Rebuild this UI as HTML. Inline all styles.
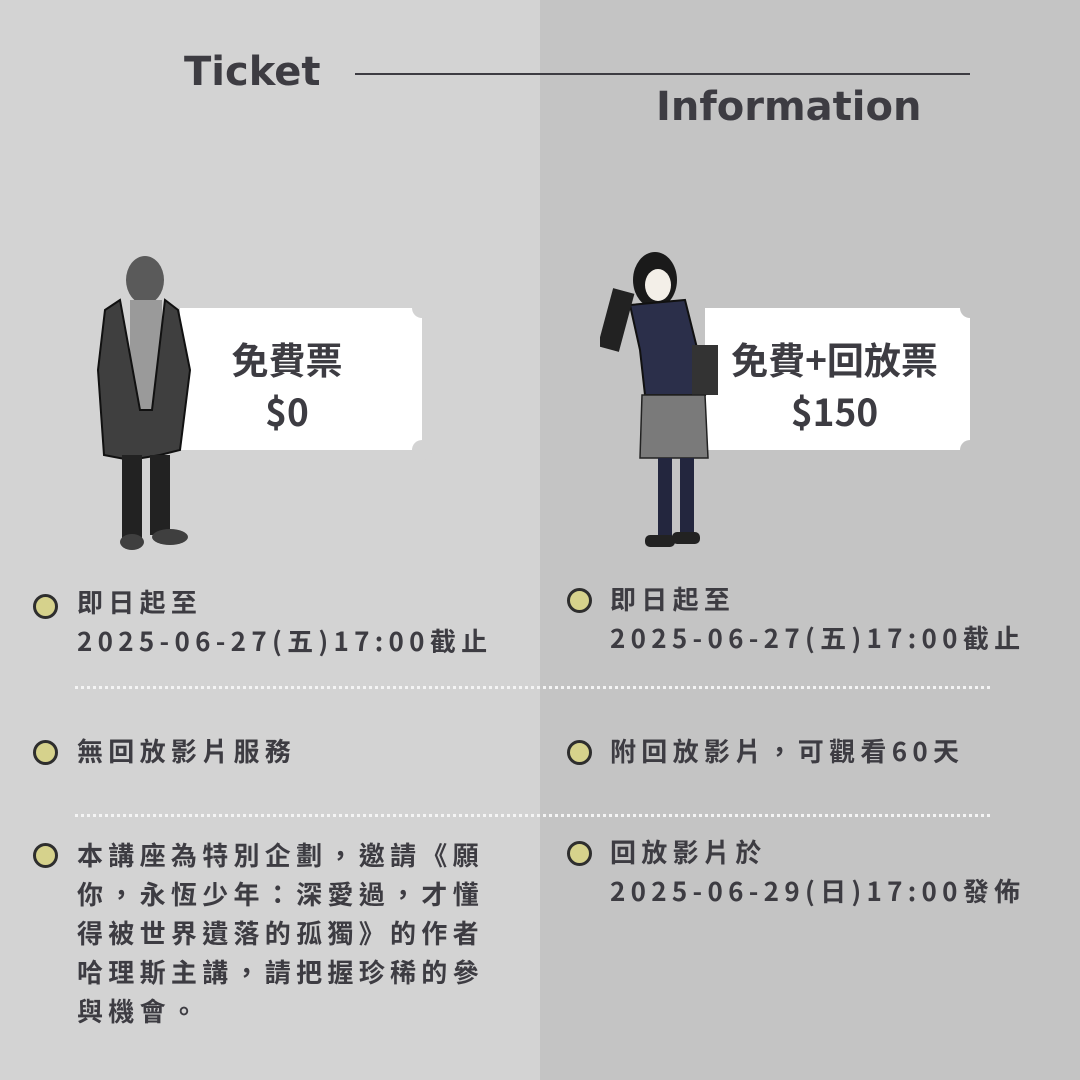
<!DOCTYPE html>
<html><head><meta charset="utf-8"><style>
body{margin:0;width:1080px;height:1080px;position:relative;overflow:hidden;background:#d3d3d3;font-family:"Liberation Sans","Noto Sans CJK TC",sans-serif;color:#3d3c42}
.r{position:absolute;left:540px;top:0;width:540px;height:1080px;background:#c4c4c4}
.t{position:absolute;font-weight:bold;font-family:"DejaVu Sans","Liberation Sans",sans-serif}
.tk{position:absolute;background:#fff;top:308px;height:142px;text-align:center;font-weight:bold;font-size:37px;line-height:52px;padding-top:24px;box-sizing:border-box;font-family:"Noto Sans CJK TC",sans-serif}
.n{position:absolute;width:20px;height:20px;border-radius:50%}
.b{position:absolute;width:19px;height:19px;border-radius:50%;background:#d6d28c;border:3px solid #2e2e2e}
.x{position:absolute;font-size:26px;font-weight:bold;letter-spacing:5.3px;line-height:39px;font-family:"Noto Sans CJK TC",sans-serif;white-space:nowrap}
.d{position:absolute;left:75px;width:915px;border-top:3px dotted #f4f4f4}
</style></head><body>
<div class="r"></div>
<div class="t" style="left:184px;top:49px;font-size:40px">Ticket</div>
<div style="position:absolute;left:355px;top:73px;width:615px;height:2px;background:#3d3c42"></div>
<div class="t" style="left:656px;top:84px;font-size:40px">Information</div>

<div class="tk" style="left:180px;width:242px;padding-right:28px">免費票<br>$0</div>
<div class="n" style="left:412px;top:298px;background:#d3d3d3"></div>
<div class="n" style="left:412px;top:440px;background:#d3d3d3"></div>
<div class="tk" style="left:705px;width:265px;padding-right:6px">免費+回放票<br>$150</div>
<div class="n" style="left:960px;top:298px;background:#c4c4c4"></div>
<div class="n" style="left:960px;top:440px;background:#c4c4c4"></div>

<svg style="position:absolute;left:90px;top:250px" width="110" height="305">
<ellipse cx="55" cy="30" rx="19" ry="24" fill="#5a5a5a"/>
<rect x="40" y="50" width="32" height="150" fill="#9a9a9a"/>
<path d="M30 50 L15 60 L8 120 L14 205 L40 210 L70 205 L90 200 L100 120 L88 60 L75 50 L62 160 L50 160 Z" fill="#3f3f3f" stroke="#111" stroke-width="2"/>
<rect x="32" y="205" width="20" height="85" fill="#222"/>
<rect x="60" y="205" width="20" height="80" fill="#222"/>
<ellipse cx="42" cy="292" rx="12" ry="8" fill="#3f3f3f"/>
<ellipse cx="80" cy="287" rx="18" ry="8" fill="#3f3f3f"/>
</svg>
<svg style="position:absolute;left:600px;top:250px" width="130" height="305">
<ellipse cx="55" cy="30" rx="22" ry="28" fill="#1a1a1a"/>
<ellipse cx="58" cy="35" rx="13" ry="16" fill="#f3efe8"/>
<path d="M30 55 L85 50 L100 110 L105 145 L45 145 L40 100 Z" fill="#2b2f4a" stroke="#111" stroke-width="2"/>
<rect x="5" y="40" width="22" height="60" fill="#222" transform="rotate(15 16 70)"/>
<rect x="92" y="95" width="26" height="50" fill="#333"/>
<path d="M42 145 L105 145 L108 208 L40 208 Z" fill="#7a7a7a" stroke="#222" stroke-width="1.5"/>
<rect x="58" y="208" width="14" height="82" fill="#23263e"/>
<rect x="80" y="208" width="14" height="82" fill="#23263e"/>
<rect x="45" y="285" width="30" height="12" rx="5" fill="#222"/>
<rect x="72" y="282" width="28" height="12" rx="5" fill="#222"/>
</svg>

<div class="b" style="left:33px;top:594px"></div>
<div class="x" style="left:77px;top:582px">即日起至<br>2025-06-27(五)17:00截止</div>
<div class="d" style="top:686px"></div>
<div class="b" style="left:33px;top:740px"></div>
<div class="x" style="left:77px;top:731px">無回放影片服務</div>
<div class="d" style="top:814px"></div>
<div class="b" style="left:33px;top:843px"></div>
<div class="x" style="left:77px;top:835px">本講座為特別企劃，邀請《願<br>你，永恆少年：深愛過，才懂<br>得被世界遺落的孤獨》的作者<br>哈理斯主講，請把握珍稀的參<br>與機會。</div>

<div class="b" style="left:567px;top:588px"></div>
<div class="x" style="left:610px;top:579px">即日起至<br>2025-06-27(五)17:00截止</div>
<div class="b" style="left:567px;top:740px"></div>
<div class="x" style="left:610px;top:731px">附回放影片，可觀看60天</div>
<div class="b" style="left:567px;top:841px"></div>
<div class="x" style="left:610px;top:832px">回放影片於<br>2025-06-29(日)17:00發佈</div>
</body></html>
